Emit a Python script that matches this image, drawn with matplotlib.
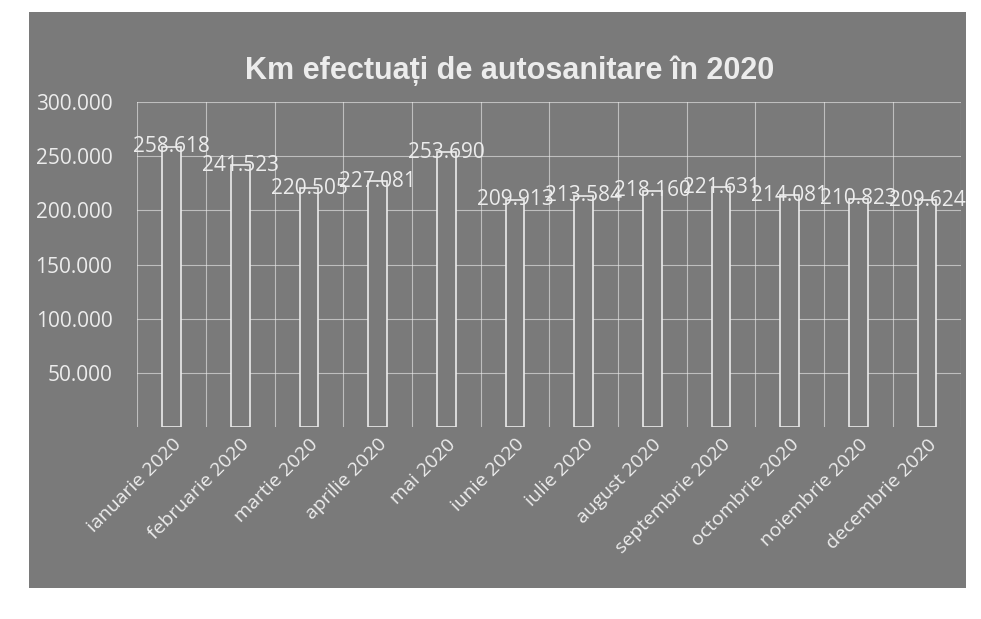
import matplotlib.pyplot as plt
from matplotlib.patches import Rectangle
from matplotlib.ticker import FuncFormatter

luni = ['ianuarie 2020', 'februarie 2020', 'martie 2020', 'aprilie 2020',
        'mai 2020', 'iunie 2020', 'iulie 2020', 'august 2020',
        'septembrie 2020', 'octombrie 2020', 'noiembrie 2020', 'decembrie 2020']
km = [258618, 241523, 220505, 227081, 253690, 209913,
      213584, 218160, 221631, 214081, 210823, 209624]
y_ticks = [50000, 100000, 150000, 200000, 250000, 300000]

gri = '#7a7a7a'
alb = '#ececec'


def fmt(v, pos=None):
    return f'{int(v):,}'.replace(',', '.')


plt.rcParams['font.family'] = ['Open Sans', 'DejaVu Sans']

fig = plt.figure(figsize=(9.81, 6.19), dpi=100, facecolor='white')
# fundal gri al graficului
fig.patches.append(Rectangle((0.03, 0.05), 0.955, 0.93, transform=fig.transFigure,
                             facecolor=gri, edgecolor='none', zorder=-5))

ax = fig.add_axes([0.14, 0.31, 0.84, 0.525])
ax.set_zorder(2)
ax.set_facecolor(gri)
x = range(len(luni))
ax.bar(x, km, width=0.27, facecolor=gri, edgecolor=alb, linewidth=1.2, zorder=3)

for i, v in enumerate(km):
    ax.text(i, v, fmt(v), ha='center', va='center', color=alb, fontsize=15, zorder=4)

ax.set_ylim(0, 300000)
ax.set_xlim(-0.5, len(luni) - 0.5)
ax.set_yticks(y_ticks)
ax.yaxis.set_major_formatter(FuncFormatter(fmt))
ax.set_xticks(list(x))
ax.set_xticklabels(luni, rotation=45, ha='right', rotation_mode='anchor', fontsize=14, color=alb)
ax.tick_params(axis='y', colors=alb, labelsize=15, length=0, pad=18)
ax.tick_params(axis='x', length=0, pad=6)

# linii de grila
for yv in y_ticks:
    ax.axhline(yv, color=alb, linewidth=0.8, alpha=0.6, zorder=1)
for i in range(len(luni) + 1):
    ax.axvline(i - 0.5, color=alb, linewidth=0.8, alpha=0.6, zorder=1)
for s in ax.spines.values():
    s.set_visible(False)

fig.text(0.52, 0.885, 'Km efectuați de autosanitare în 2020', ha='center', va='center',
         fontsize=22, fontweight='bold', color=alb, family=['Liberation Sans', 'DejaVu Sans'],
         zorder=3)

fig.savefig('out.png', dpi=100, facecolor='white')
